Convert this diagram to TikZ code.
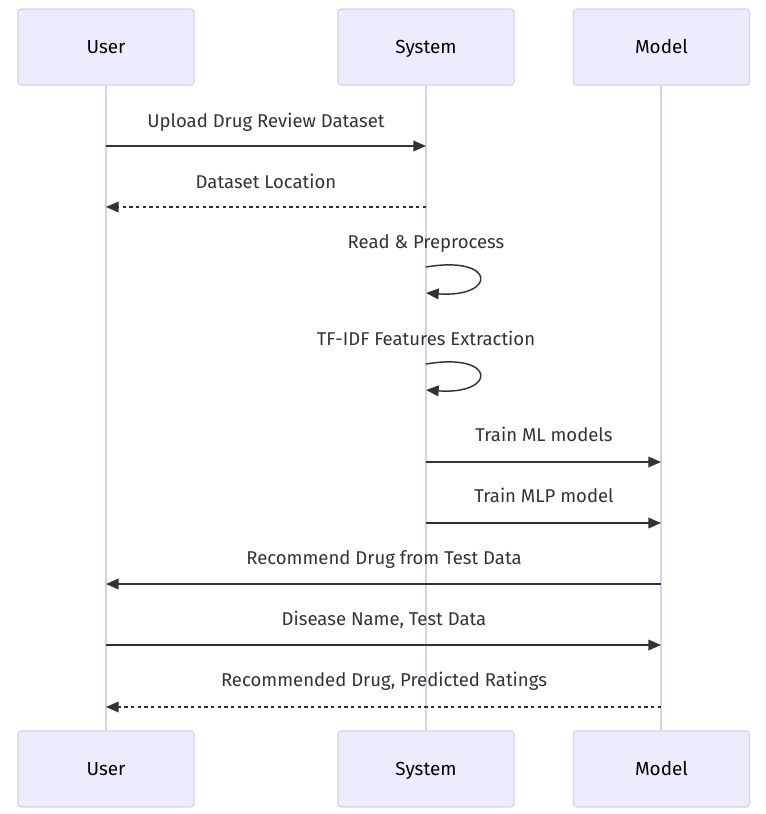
\documentclass[tikz,border=0pt]{standalone}
\usepackage{fontspec}
\setmainfont{Fira Sans}
\usetikzlibrary{arrows.meta}
\definecolor{actfill}{HTML}{ECECFF}
\definecolor{actline}{HTML}{D9CFF3}
\definecolor{msg}{HTML}{333333}
\tikzset{
  actor/.style={draw=actline, fill=actfill, line width=0.9pt, rounded corners=2.5pt,
    minimum width=176*0.75pt, minimum height=76*0.75pt, inner sep=0pt, font=\fontsize{14.2}{16}\selectfont, text=black},
  acttext/.style={font=\fontsize{14.2}{16}\selectfont, text=black, inner sep=0pt, anchor=base},
  life/.style={draw=actline, line width=1.5pt},
  msgline/.style={draw=msg, line width=1.1pt, -{Triangle[length=9.5pt,width=8pt]}},
  reply/.style={msgline, dash pattern=on 2.5pt off 2.5pt},
  lbl/.style={text=msg, font=\fontsize{13.9}{16}\selectfont, inner sep=0pt, anchor=base},
}
\begin{document}
\begin{tikzpicture}[x=0.75pt,y=-0.75pt]
\useasboundingbox (0,0) rectangle (766,814);
% lifelines
\coordinate (uT) at (106,85); \coordinate (uB) at (106,731);
\coordinate (sT) at (426,85); \coordinate (sB) at (426,731);
\coordinate (mT) at (661,85); \coordinate (mB) at (661,731);
\draw[life] (uT) -- (uB);
\draw[life] (sT) -- (sB);
\draw[life] (mT) -- (mB);
% actors
\node[actor] (user) at (106,47) {};
\node[actor] (sys) at (426,47) {};
\node[actor] (model) at (661.5,47) {};
\node[actor] (user2) at (106,769) {};
\node[actor] (sys2) at (426,769) {};
\node[actor] (model2) at (661.5,769) {};
\node[acttext] (tuser) at (106,53) {User};
\node[acttext] (tsys) at (426,53) {System};
\node[acttext] (tmodel) at (661.5,53) {Model};
\node[acttext] (tuser2) at (106,775) {User};
\node[acttext] (tsys2) at (426,775) {System};
\node[acttext] (tmodel2) at (661.5,775) {Model};
% coordinates on lifelines
\foreach \y/\n in {146/1,207/2,267/3,293/3b,364/4,390/4b,462/5,523/6,584/7,645/8,707/9}{
  \coordinate (u\n) at (106,\y);
  \coordinate (s\n) at (426,\y);
  \coordinate (m\n) at (661,\y);
}
% messages
\draw[msgline] (u1) -- (s1);
\node[lbl] (l1) at (266,127) {Upload Drug Review Dataset};
\draw[reply] (s2) -- (u2);
\node[lbl] (l2) at (266,188) {Dataset Location};
\node[lbl] (l3) at (426,248) {Read \& Preprocess};
\draw[msgline] (s3) .. controls (497,255) and (497,298) .. (s3b);
\node[lbl] (l4) at (426,345) {TF-IDF Features Extraction};
\draw[msgline] (s4) .. controls (497,352) and (497,395) .. (s4b);
\draw[msgline] (s5) -- (m5);
\node[lbl] (l5) at (544,441) {Train ML models};
\draw[msgline] (s6) -- (m6);
\node[lbl] (l6) at (544,502) {Train MLP model};
\draw[msgline] (m7) -- (u7);
\node[lbl] (l7) at (384,564) {Recommend Drug from Test Data};
\draw[msgline] (u8) -- (m8);
\node[lbl] (l8) at (384,625) {Disease Name, Test Data};
\draw[reply] (m9) -- (u9);
\node[lbl] (l9) at (384,686) {Recommended Drug, Predicted Ratings};
\end{tikzpicture}
\end{document}
